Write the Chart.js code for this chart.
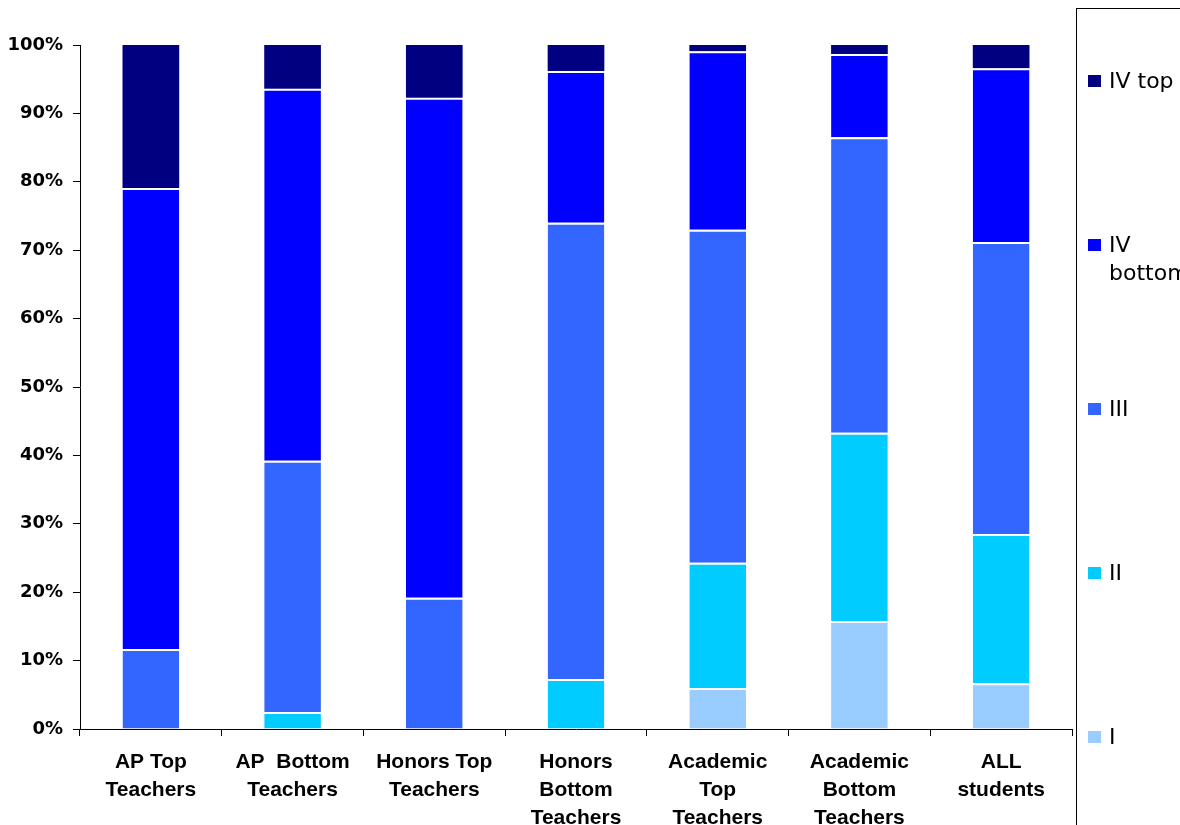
<!DOCTYPE html>
<html>
<head>
<meta charset="utf-8">
<script src="https://cdn.jsdelivr.net/npm/chart.js@4/dist/chart.umd.min.js"></script>
<style>
  html, body { margin: 0; padding: 0; background: #fff; }
  #wrap { width: 1180px; height: 825px; position: relative; }
</style>
</head>
<body>
<div id="wrap"><canvas id="c" width="1180" height="825"></canvas></div>
<script>
// ---- data ----
const categories = [
  ["AP Top", "Teachers"],
  ["AP  Bottom", "Teachers"],
  ["Honors Top", "Teachers"],
  ["Honors", "Bottom", "Teachers"],
  ["Academic", "Top", "Teachers"],
  ["Academic", "Bottom", "Teachers"],
  ["ALL", "students"]
];
const seriesNames = ["I", "II", "III", "IV bottom", "IV top"];
const levelI       = [0, 0, 0, 0, 6.0, 15.8, 6.7];
const levelII      = [0, 2.5, 0, 7.3, 18.3, 27.5, 21.8];
const levelIII     = [11.7, 36.7, 19.2, 66.7, 48.7, 43.2, 42.7];
const levelIVbot   = [67.4, 54.4, 73.1, 22.2, 26.1, 12.2, 25.4];
const levelIVtop   = [20.9, 6.4, 7.7, 3.8, 0.9, 1.3, 3.4];
const yTickValues  = [0, 10, 20, 30, 40, 50, 60, 70, 80, 90, 100];

const colors = ["#99CCFF", "#00CCFF", "#3366FF", "#0000FF", "#000080"];
const seriesData = [levelI, levelII, levelIII, levelIVbot, levelIVtop];

const datasets = seriesNames.map((name, i) => ({
  label: name,
  data: seriesData[i],
  backgroundColor: colors[i],
  borderColor: "#ffffff",
  borderWidth: { top: i === seriesNames.length - 1 ? 0 : 2, left: 0, right: 0, bottom: 0 },
  borderSkipped: "start",
  barPercentage: 0.4,
  categoryPercentage: 1.0
}));

// Legend drawn in a framed box on the right, items in reverse order
const boxLegend = {
  id: "boxLegend",
  afterDraw(chart) {
    const ctx = chart.ctx;
    ctx.save();
    ctx.strokeStyle = "#000";
    ctx.lineWidth = 1;
    ctx.strokeRect(1076.5, 8.5, 300, 900);
    const ds = chart.data.datasets.slice().reverse();
    ctx.font = '22px "DejaVu Sans"';
    ctx.textBaseline = "middle";
    ctx.textAlign = "left";
    const textX = 1109, maxW = 1178 - textX;
    ds.forEach((d, k) => {
      const cy = 81 + k * 164;
      ctx.fillStyle = d.backgroundColor;
      ctx.fillRect(1088, cy - 6, 13, 12);
      const words = d.label.split(" ");
      const lines = [];
      let cur = "";
      words.forEach(w => {
        const t = cur ? cur + " " + w : w;
        if (cur && ctx.measureText(t).width > maxW) { lines.push(cur); cur = w; }
        else cur = t;
      });
      if (cur) lines.push(cur);
      ctx.fillStyle = "#000";
      lines.forEach((ln, j) => ctx.fillText(ln, textX, cy + 1 + j * 28));
    });
    ctx.restore();
  }
};

new Chart(document.getElementById("c"), {
  type: "bar",
  data: { labels: categories, datasets },
  plugins: [boxLegend],
  options: {
    responsive: false,
    animation: false,
    events: [],
    layout: { padding: { top: 45, right: 108, left: 0, bottom: 0 } },
    plugins: { legend: { display: false }, tooltip: { enabled: false } },
    scales: {
      x: {
        stacked: true,
        afterFit(s) { s.height = 96; },
        grid: { display: true, offset: true, drawOnChartArea: false, drawTicks: true, tickLength: 7, color: "#000", lineWidth: 1 },
        border: { display: true, color: "#000", width: 1 },
        ticks: {
          autoSkip: false, maxRotation: 0, minRotation: 0, padding: 12, color: "#000",
          font: { family: '"Liberation Sans", Arial, sans-serif', size: 21, weight: "bold", lineHeight: 1.333 }
        }
      },
      y: {
        stacked: true,
        min: 0, max: 100,
        afterFit(s) { s.width = 80; },
        afterBuildTicks(s) { s.ticks = yTickValues.map(v => ({ value: v })); },
        grid: { display: true, drawOnChartArea: false, drawTicks: true, tickLength: 7, color: "#000", lineWidth: 1 },
        border: { display: true, color: "#000", width: 1 },
        ticks: {
          padding: 10, color: "#000",
          callback: v => v + "%",
          font: { family: '"DejaVu Sans", sans-serif', size: 18, weight: "bold" }
        }
      }
    }
  }
});
</script>
</body>
</html>
